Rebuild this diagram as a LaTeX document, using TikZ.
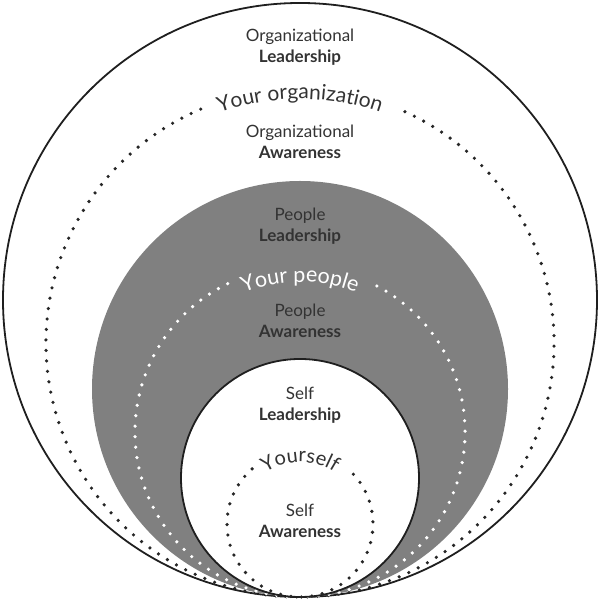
\documentclass[tikz,border=0pt]{standalone}
\usepackage{fontspec}
\setmainfont{Lato}
\usetikzlibrary{decorations.text}
\definecolor{ink}{HTML}{333333}
\definecolor{midgray}{HTML}{808080}
\begin{document}
\begin{tikzpicture}[x=1pt,y=1pt,
  ring/.style={line width=1.8pt, draw=black!88},
  dotline/.style={line width=3.6pt, line cap=round, dash pattern=on 0pt off 10.5pt},
  lbl/.style={align=center, text=ink, font=\fontsize{17}{21}\selectfont, inner sep=0pt},
]
\useasboundingbox (0,0) rectangle (600,601);
\coordinate (cO) at (300,301);
\coordinate (cOrg) at (300,258);
\coordinate (cG) at (300,212);
\coordinate (cP) at (300,169);
\coordinate (cS) at (300,123);
\coordinate (cI) at (300,77);
% outer circle
\draw[ring] (cO) circle[radius=297];
% organization dotted ring
\draw[dotline, black!85] (cOrg) ++(113:254) arc[start angle=113, end angle=427, radius=254];
% people disc
\fill[midgray] (cG) circle[radius=208];
\draw[dotline, white] (cP) ++(116:165) arc[start angle=116, end angle=423, radius=165];
% self disc
\filldraw[fill=white, ring] (cS) circle[radius=119];
\draw[dotline, black!85] (cI) ++(131:73) arc[start angle=131, end angle=410, radius=73];
% curved titles
\path[decorate, decoration={text along path, text align=center,
  text={|\fontsize{21}{21}\selectfont\color{ink}|Your organization}}]
  (cOrg) ++(113:244) arc[start angle=113, end angle=67, radius=244];
\path[decorate, decoration={text along path, text align=center,
  text={|\fontsize{21.5}{21.5}\selectfont\color{white}|Your people}}]
  (cP) ++(117:150) arc[start angle=117, end angle=63, radius=150];
\path[decorate, decoration={text along path, text align=center,
  text={|\fontsize{20}{20}\selectfont\color{ink}|Yourself}}]
  (cI) ++(133:62) arc[start angle=133, end angle=47, radius=62];
% labels
\node[lbl] (orgL) at (300,553.5) {Organizational\\\textbf{Leadership}};
\node[lbl] (orgA) at (300,459.5) {Organizational\\\textbf{Awareness}};
\node[lbl] (pplL) at (300,374.5) {People\\\textbf{Leadership}};
\node[lbl] (pplA) at (300,280.5) {People\\\textbf{Awareness}};
\node[lbl] (selfL) at (300,195.5) {Self\\\textbf{Leadership}};
\node[lbl] (selfA) at (300,80.5) {Self\\\textbf{Awareness}};
\end{tikzpicture}
\end{document}
